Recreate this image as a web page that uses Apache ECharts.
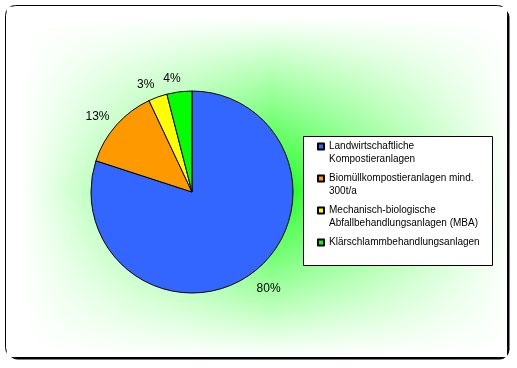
<!DOCTYPE html>
<html>
<head>
<meta charset="utf-8">
<script src="https://cdn.jsdelivr.net/npm/echarts@6/dist/echarts.min.js"></script>
<style>html,body{margin:0;padding:0;background:#fff}#c{width:517px;height:368px}</style>
</head>
<body>
<div id="c"></div>
<script>
const categories = [
  'Landwirtschaftliche\nKompostieranlagen',
  'Biomüllkompostieranlagen mind.\n300t/a',
  'Mechanisch-biologische\nAbfallbehandlungsanlagen (MBA)',
  'Klärschlammbehandlungsanlagen'
];
const values = [80, 13, 3, 4];
const colors = ['#3366ff', '#ff9900', '#ffff00', '#00ff00'];

const chart = echarts.init(document.getElementById('c'), null, {renderer: 'canvas'});

function g2c(g) { const v = Math.round(255 * (1 - g)); return 'rgb(' + v + ',255,' + v + ')'; }

// per-slice label placement tweaks (label line is hidden)
const labelLen = [19, 13, 13, 13];
const labelDist = [-6, -3, -1, -3];

const option = {
  animation: false,
  backgroundColor: '#ffffff',
  graphic: [
    { type: 'rect', z: -10, silent: true,
      shape: { x: 7.5, y: 7.5, width: 502, height: 352, r: 10 },
      style: { fill: '#000' } },
    { type: 'rect', z: -9, silent: true,
      shape: { x: 5.5, y: 5.5, width: 502, height: 352, r: 10 },
      style: { fill: '#fff', stroke: '#000', lineWidth: 1 } },
    { type: 'rect', z: -8, silent: true,
      shape: { x: 7, y: 7, width: 500, height: 350 },
      style: { fill: { type: 'linear', x: 0, y: 0, x2: 1, y2: 0, colorStops: [
        { offset: 0, color: g2c(0) }, { offset: 0.03, color: g2c(0) },
        { offset: 0.531, color: g2c(0.95) }, { offset: 1, color: g2c(0.02) } ] } } },
    { type: 'rect', z: -7, silent: true,
      shape: { x: 7, y: 7, width: 500, height: 350 },
      style: { blend: 'screen', fill: { type: 'linear', x: 0, y: 0, x2: 0, y2: 1, colorStops: [
        { offset: 0, color: g2c(0) }, { offset: 0.03, color: g2c(0) },
        { offset: 0.523, color: g2c(0.95) }, { offset: 1, color: g2c(0) } ] } } },
    { type: 'rect', z: 1, silent: true,
      shape: { x: 303.5, y: 136.5, width: 189, height: 129 },
      style: { fill: '#fff', stroke: '#000', lineWidth: 1 } }
  ],
  legend: {
    orient: 'vertical',
    left: 317,
    top: 127,
    padding: 0,
    itemWidth: 6,
    itemHeight: 6,
    itemGap: -7,
    icon: 'rect',
    selectedMode: false,
    textStyle: { fontFamily: 'Liberation Sans', fontSize: 10, color: '#000', lineHeight: 13 },
    formatter: function (name) {
      return '\n' + name + (name.indexOf('\n') >= 0 ? '' : '\n');
    },
    data: categories
  },
  series: [{
    type: 'pie',
    center: [192, 192],
    radius: 101,
    startAngle: 90,
    clockwise: true,
    avoidLabelOverlap: false,
    silent: true,
    percentPrecision: 0,
    itemStyle: { borderColor: '#000', borderWidth: 1 },
    label: {
      show: true,
      position: 'outside',
      formatter: '{d}%',
      fontFamily: 'Liberation Sans',
      fontSize: 12,
      color: '#000',
      alignTo: 'none'
    },
    labelLine: { show: false, length2: 0 },
    emphasis: { disabled: true },
    data: categories.map((n, i) => ({
      name: n, value: values[i],
      itemStyle: { color: colors[i] },
      label: { distanceToLabelLine: labelDist[i] },
      labelLine: { length: labelLen[i] }
    }))
  }]
};
chart.setOption(option);
</script>
</body>
</html>
